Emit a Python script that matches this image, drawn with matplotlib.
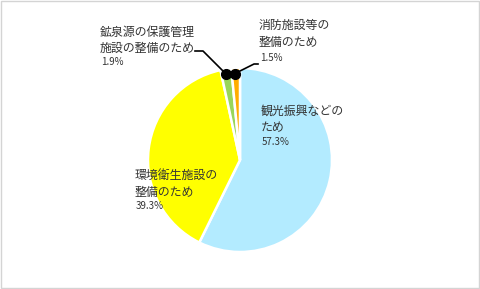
import matplotlib
matplotlib.use("Agg")
import matplotlib.pyplot as plt
from matplotlib.patches import Rectangle

plt.rcParams['font.family'] = ['Noto Sans CJK JP', 'DejaVu Sans']

categories = ["観光振興などのため", "環境衛生施設の整備のため", "鉱泉源の保護管理施設の整備のため", "消防施設等の整備のため"]
values = [57.3, 39.3, 1.9, 1.5]
colors = ["#B3EBFF", "#FFFF00", "#99D65A", "#FFAD00"]
label_lines = [["観光振興などの", "ため"], ["環境衛生施設の", "整備のため"],
               ["鉱泉源の保護管理", "施設の整備のため"], ["消防施設等の", "整備のため"]]
pct_labels = ["57.3%", "39.3%", "1.9%", "1.5%"]

W, H = 480, 289
fig = plt.figure(figsize=(W / 100, H / 100), dpi=100)
ax = fig.add_axes([0, 0, 1, 1])
ax.set_xlim(0, W)
ax.set_ylim(0, H)
ax.set_aspect('equal')
ax.axis('off')

def Y(y):
    return H - y

ax.add_patch(Rectangle((0.5, Y(287.5)), 478.5, 287, fill=False, edgecolor="#D4D4D4", lw=1.0))

ax.pie(values, colors=colors, startangle=90, counterclock=False,
       center=(240, Y(160)), radius=92, frame=True,
       wedgeprops=dict(edgecolor="white", linewidth=1.8))
ax.set_xlim(0, W)
ax.set_ylim(0, H)
ax.axis('off')

tc = "#333333"
pos = [(261, [111, 128, 142]), (135, [175, 192, 206]), (100, [32, 48, 62]), (259, [25, 42, 58])]
for (x, ys), lines, pct in zip(pos, label_lines, pct_labels):
    for yy, t in zip(ys[:2], lines):
        ax.text(x, Y(yy), t, fontsize=8.6, color=tc, ha='left', va='center')
    ax.text(x + 1, Y(ys[2]), pct, fontsize=7.0, color=tc, ha='left', va='center')

ax.plot([195, 203, 225.5], [Y(51), Y(51), Y(73.5)], color="black", lw=1.2)
ax.plot([235, 254, 258], [Y(73.5), Y(64), Y(64)], color="black", lw=1.2)
ax.plot([225.5, 235], [Y(73.5), Y(73.5)], 'o', color="black", ms=7)

fig.savefig("out.png", dpi=100)
